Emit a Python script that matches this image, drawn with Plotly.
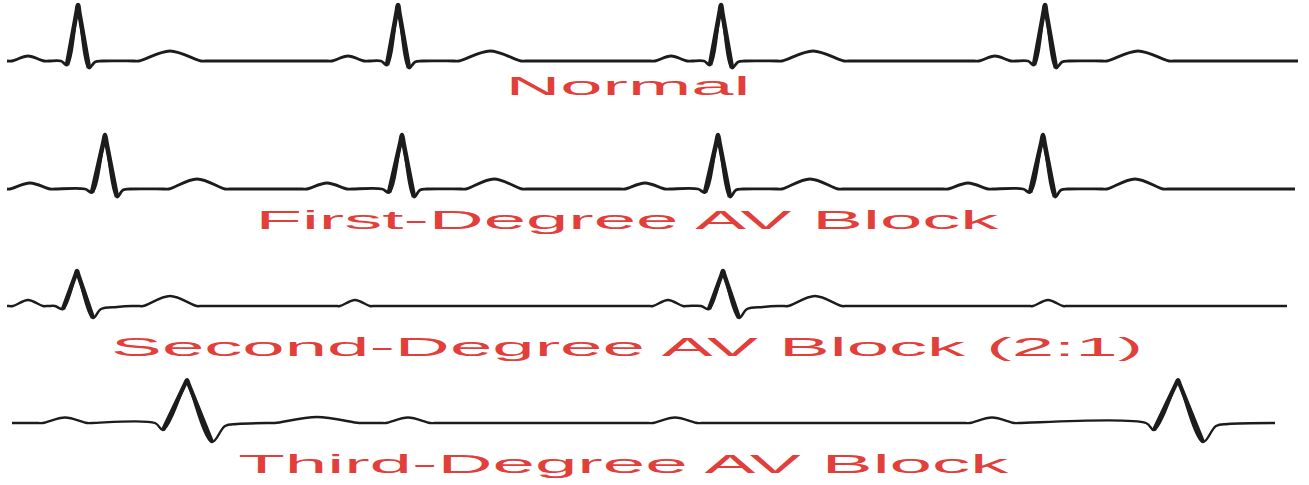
import json
import plotly.graph_objects as go

# ---------------- data (pixel-like units) ----------------
# Row 1 : Normal sinus rhythm
normal_span = [7, 1298]
normal_p_times = [28, 348, 671, 995]
normal_r_times = [78, 398, 721, 1045]
normal_t_times = [170, 490, 813, 1138]
normal_p_wave = [16, 5]          # half-duration, amplitude
normal_t_wave = [31, 10]
normal_qrs_dx = [-17, -11, -1.5, 0, 1.5, 11, 17, 24]
normal_qrs_amp = [0, -4, 48, 56, 47, -7, -1, 0]

# Row 2 : First-degree AV block (long PR)
first_span = [7, 1295]
first_p_times = [30, 327, 645, 968]
first_r_times = [105, 402, 718, 1043]
first_t_times = [197, 494, 810, 1135]
first_p_wave = [20, 6]
first_t_wave = [28, 10]
first_qrs_dx = [-20, -13, -1.5, 0, 1.5, 12, 18, 25]
first_qrs_amp = [0, -3.5, 47, 54, 46, -8, -1, 0]

# Row 3 : Second-degree AV block (2:1)
second_span = [7, 1287]
second_p_times = [28, 355, 668, 1048]
second_r_times = [77, 723]
second_t_times = [170, 815]
second_p_wave = [15, 6]
second_t_wave = [27, 10]
second_qrs_dx = [-22, -14, -1.5, 0, 1.5, 16, 24, 40, 55]
second_qrs_amp = [0, -3, 31, 35, 30.5, -12, -3, -1, 0]

# Row 4 : Third-degree AV block (dissociation)
third_span = [12, 1275]
third_p_times = [65, 408, 675, 992]
third_r_times = [187, 1178]
third_t_times = [317]
third_p_wave = [22, 5.5]
third_t_wave = [42, 6]
third_qrs_dx = [-32, -24, -2, 0, 2, 25, 38, 50]
third_qrs_amp = [0, -7, 39, 43, 38, -19, -3, -1]

labels = ["Normal", "First-Degree AV Block", "Second-Degree AV Block (2:1)",
          "Third-Degree AV Block"]

# ---------------- layout constants ----------------
W, H = 1309, 485
baselines = [61, 189, 306, 423]
line_widths = [2.8, 2.8, 2.5, 2.4]
qrs_widths = [4.6, 4.6, 4.4, 4.2]
label_x = [628, 627, 627, 624]
label_y = [86, 220, 347, 463.5]
label_widths = [245, 743, 1032, 770]
LINE_COLOR = "#1c1c1c"
TEXT_COLOR = "#e23f3b"


def wave(center, spec):
    half, amp = spec
    return [(center - half - 5, 0), (center - half, 0), (center, amp),
            (center + half, 0), (center + half + 5, 0)]


def build(span, p_times, p_spec, r_times, qrs_dx, qrs_amp, t_times, t_spec):
    pts = []
    for c in p_times:
        pts += wave(c, p_spec)
    for r in r_times:
        pts += [(r + dx, a) for dx, a in zip(qrs_dx, qrs_amp)]
    for c in t_times:
        pts += wave(c, t_spec)
    pts = [p for p in pts if span[0] < p[0] < span[1]]
    pts += [(span[0], 0), (span[1], 0)]
    pts.sort()
    return [p[0] for p in pts], [p[1] for p in pts]


row_data = [
    (normal_span, normal_p_times, normal_p_wave, normal_r_times,
     normal_qrs_dx, normal_qrs_amp, normal_t_times, normal_t_wave),
    (first_span, first_p_times, first_p_wave, first_r_times,
     first_qrs_dx, first_qrs_amp, first_t_times, first_t_wave),
    (second_span, second_p_times, second_p_wave, second_r_times,
     second_qrs_dx, second_qrs_amp, second_t_times, second_t_wave),
    (third_span, third_p_times, third_p_wave, third_r_times,
     third_qrs_dx, third_qrs_amp, third_t_times, third_t_wave),
]

fig = go.Figure()
for i, rd in enumerate(row_data):
    xs, amps = build(*rd)
    fig.add_trace(go.Scatter(
        x=xs, y=[baselines[i] - a for a in amps], mode="lines",
        line=dict(color=LINE_COLOR, width=line_widths[i], shape="spline",
                  smoothing=1.0, simplify=False),
        hoverinfo="skip", showlegend=False, name=labels[i]))
    # the steep QRS strokes look heavier in the reference: overlay them thicker
    r_times, qrs_dx, qrs_amp = rd[3], rd[4], rd[5]
    for r in r_times:
        qx = [r + dx for dx in qrs_dx[1:6]]
        qy = [baselines[i] - a for a in qrs_amp[1:6]]
        fig.add_trace(go.Scatter(
            x=qx, y=qy, mode="lines",
            line=dict(color=LINE_COLOR, width=qrs_widths[i], shape="spline",
                      smoothing=1.0, simplify=False),
            hoverinfo="skip", showlegend=False))

for i, lab in enumerate(labels):
    fig.add_annotation(x=label_x[i], y=label_y[i], xref="x", yref="y", text=lab,
                       showarrow=False, xanchor="center", yanchor="middle",
                       font=dict(family="Liberation Sans, Arial, sans-serif", size=26,
                                 color=TEXT_COLOR))

fig.update_layout(
    width=W, height=H, margin=dict(l=0, r=0, t=0, b=0),
    paper_bgcolor="white", plot_bgcolor="white",
    xaxis=dict(range=[0, W], visible=False, fixedrange=True),
    yaxis=dict(range=[H, 0], visible=False, fixedrange=True),
)

post = """
document.body.style.margin = '0';
document.body.style.padding = '0';
document.body.style.overflow = 'hidden';
document.body.style.background = 'white';
var gd = document.getElementById('{plot_id}');
var widths = %s;
gd.querySelectorAll('.annotation').forEach(function(g){
  var idx = parseInt(g.getAttribute('data-index'));
  var t = g.querySelector('.annotation-text');
  if (t && widths[idx]) {
    t.setAttribute('textLength', widths[idx]);
    t.setAttribute('lengthAdjust', 'spacingAndGlyphs');
  }
});
""" % json.dumps(label_widths)

fig.write_html("out.html", post_script=post, config={"displayModeBar": False})
